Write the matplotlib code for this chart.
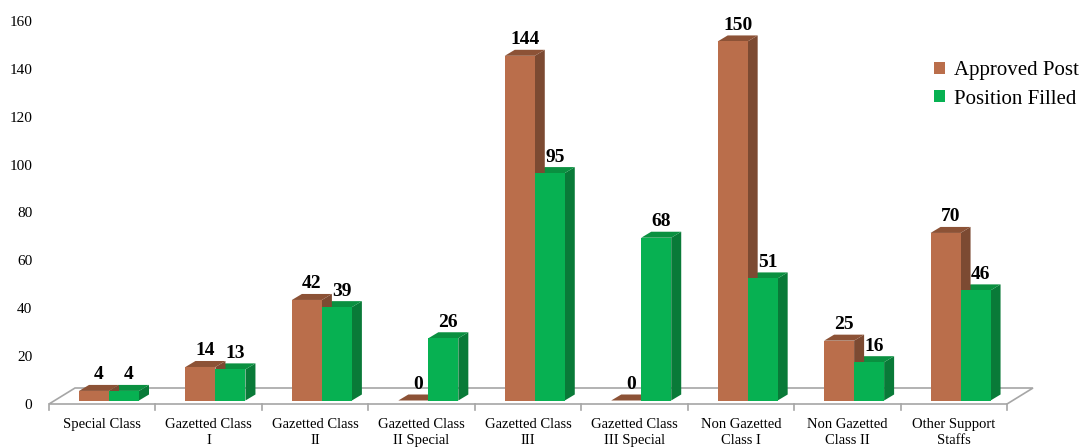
import matplotlib.pyplot as plt
from matplotlib.patches import Polygon, Patch

categories = ["Special Class", "Gazetted Class\nI", "Gazetted Class\nII",
              "Gazetted Class\nII Special", "Gazetted Class\nIII",
              "Gazetted Class\nIII Special", "Non Gazetted\nClass I",
              "Non Gazetted\nClass II", "Other Support\nStaffs"]
approved = [4, 14, 42, 0, 144, 0, 150, 25, 70]
filled = [4, 13, 39, 26, 95, 68, 51, 16, 46]
yticks = [0, 20, 40, 60, 80, 100, 120, 140, 160]

W, H = 1083, 447
x0_px, x1_px = 49, 1007     # front edge of the floor
y0_px, y1_px = 404, 21      # value 0 and value 160
px_x = (x1_px - x0_px) / len(categories)
px_y = (y0_px - y1_px) / 160

# colours: front, top, side
brown = ("#BA6E4B", "#8C5236", "#7C4A32")
green = ("#07B152", "#0A9040", "#097A38")

plt.rcParams["font.family"] = ["Liberation Serif", "DejaVu Serif"]

fig = plt.figure(figsize=(W / 100, H / 100), dpi=100)
ax = fig.add_axes([x0_px / W, (H - y0_px) / H,
                   (x1_px - x0_px) / W, (y0_px - y1_px) / H])
ax.set_xlim(0, len(categories))
ax.set_ylim(0, 160)
for s in ax.spines.values():
    s.set_visible(False)
ax.set_xticks([])
ax.set_yticks(yticks)
ax.tick_params(axis="y", length=0, pad=12, labelsize=11)


def dx(p):
    return p / px_x


def dy(p):
    return p / px_y


# floor
fdx, fdy = dx(26), dy(16)
floor = Polygon([(0, 0), (len(categories), 0),
                 (len(categories) + fdx, fdy), (fdx, fdy)],
                closed=True, facecolor="white", edgecolor="#A6A6A6",
                linewidth=1.2, clip_on=False, zorder=1)
ax.add_patch(floor)
for i in range(len(categories) + 1):
    ax.plot([i, i], [0, -dy(6)], color="#A6A6A6", lw=1.2, clip_on=False, zorder=1)

bar_off, bar_w = dx(30), dx(30)
ddx, ddy = dx(10), dy(6)
base = dy(3.5)


def box(x, v, cols):
    front, top, side = cols
    y0, y1 = base, base + v
    ax.add_patch(Polygon([(x + bar_w, y0), (x + bar_w + ddx, y0 + ddy),
                          (x + bar_w + ddx, y1 + ddy), (x + bar_w, y1)],
                         closed=True, facecolor=side, edgecolor="none",
                         clip_on=False, zorder=3))
    ax.add_patch(Polygon([(x, y1), (x + bar_w, y1), (x + bar_w + ddx, y1 + ddy),
                          (x + ddx, y1 + ddy)],
                         closed=True, facecolor=top, edgecolor="none",
                         clip_on=False, zorder=3))
    if v > 0:
        ax.add_patch(Polygon([(x, y0), (x + bar_w, y0), (x + bar_w, y1), (x, y1)],
                             closed=True, facecolor=front, edgecolor="none",
                             clip_on=False, zorder=4))
    ax.text(x + bar_w / 2 + ddx / 2, y1 + ddy + dy(1.5), str(v),
            ha="center", va="bottom", fontsize=14, fontweight="bold",
            color="black", zorder=5)


for i, (a, f) in enumerate(zip(approved, filled)):
    box(i + bar_off + bar_w, f, green)
    box(i + bar_off, a, brown)
    ax.text(i + 0.5, -dy(14), categories[i], ha="center", va="top",
            fontsize=10.5, linespacing=1.3)

handles = [Patch(facecolor=brown[0], label="Approved Post"),
           Patch(facecolor=green[0], label="Position Filled")]
fig.legend(handles=handles, loc="upper left",
           bbox_to_anchor=(926 / W, 1 - 53 / H), frameon=False,
           fontsize=15, handlelength=0.5, handleheight=0.5,
           handletextpad=0.45, labelspacing=0.45, borderaxespad=0)

fig.savefig("out.png", dpi=100)
